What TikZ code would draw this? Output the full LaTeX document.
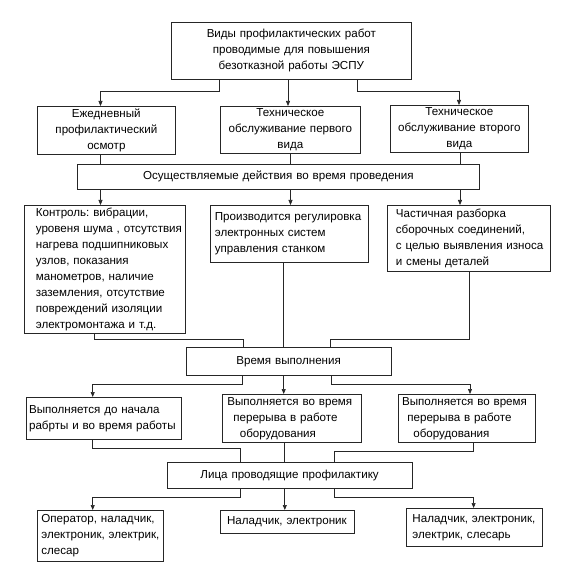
\documentclass[tikz,border=0pt]{standalone}
\usepackage{fontspec}
\setmainfont{Liberation Sans}
\usetikzlibrary{arrows.meta}
\frenchspacing
\newcommand{\lind}[1]{\leftskip=#1\relax}
\begin{document}
\begin{tikzpicture}[x=1pt,y=-1pt,
  every node/.style={font=\fontsize{11.6}{16}\selectfont\frenchspacing},
  bx/.style={draw=black!85, line width=0.7pt, rectangle, inner ysep=0pt, anchor=north west},
  cbx/.style={bx, align=center, inner xsep=0pt},
  lbx/.style={bx, align=left, inner xsep=0pt},
  ln/.style={draw=black!85, line width=0.7pt},
  arr/.style={ln, -{Triangle[length=5pt,width=4pt]}}
]
\useasboundingbox (0,0) rectangle (584,575);
% boxes
\node[cbx, minimum height=57pt, text width=240pt] (top) at (171,22)
  {Виды профилактических работ\\ проводимые для повышения\\ безотказной работы ЭСПУ};
\node[cbx, minimum height=48pt, text width=138pt] (A) at (37,106)
  {Ежедневный\\ профилактический\\ осмотр};
\node[cbx, minimum height=47pt, text width=140pt] (B) at (220,106)
  {Техническое\\ обслуживание первого\\ вида};
\node[cbx, minimum height=47pt, text width=138pt] (C) at (390,105)
  {Техническое\\ обслуживание второго\\ вида};
\node[cbx, minimum height=25pt, text width=402pt] (S) at (77,164)
  {Осуществляемые действия во время проведения};
\node[lbx, minimum height=128pt, text width=161.5pt] (D) at (23.5,205)
  {\lind{12pt}Контроль: вибрации,\\ уровеня шума , отсутствия\\ нагрева подшипниковых\\ узлов, показания\\ манометров, наличие\\ заземления, отсутствие\\ повреждений изоляции\\ электромонтажа и т.д.\par};
\node[lbx, minimum height=57pt, text width=157.5pt] (E) at (210,205)
  {\lind{4.5pt}Производится регулировка\\ электронных систем\\ управления станком\par\vspace*{3pt}};
\node[lbx, minimum height=66pt, text width=163pt] (F) at (386.5,205)
  {\lind{9pt}Частичная разборка\\ сборочных соединений,\\ с целью выявления износа\\ и смены деталей\par};
\node[cbx, minimum height=28pt, text width=205.5pt] (T) at (185.5,347)
  {Время выполнения};
\node[lbx, minimum height=42pt, text width=155.3pt] (G) at (25.7,397)
  {\lind{3pt}Выполняется до начала\\ рабрты и во время работы\par};
\node[lbx, minimum height=48pt, text width=139pt] (H) at (222,394)
  {\lind{5pt}Выполняется во время\\ \hspace*{6pt}перерыва в работе\\ \hspace*{12.5pt}оборудования\par};
\node[lbx, minimum height=48pt, text width=137pt] (I) at (398,394)
  {\lind{3.7pt}Выполняется во время\\ \hspace*{5.3pt}перерыва в работе\\ \hspace*{11.3pt}оборудования\par};
\node[cbx, minimum height=26pt, text width=245.5pt] (P) at (166.5,462)
  {Лица проводящие профилактику};
\node[lbx, minimum height=51pt, text width=126pt] (J) at (37,510)
  {\lind{4pt}Оператор, наладчик,\\ электроник, электрик,\\ слесар\par};
\node[lbx, minimum height=23pt, text width=134pt] (K) at (220,510)
  {\lind{6.7pt}Наладчик, электроник\par};
\node[lbx, minimum height=38pt, text width=136.5pt] (L) at (405.5,508)
  {\lind{6.6pt}Наладчик, электроник,\\ электрик, слесарь\par};
% connectors level 1
\draw[arr] (219,0 |- top.south) -- (219,91) -| (100.5,0 |- A.north);
\draw[arr] (288,0 |- top.south) -- (288,0 |- B.north);
\draw[arr] (357.5,0 |- top.south) -- (357.5,91) -| (459,0 |- C.north);
\draw[ln] (100.5,0 |- A.south) -- (100.5,0 |- S.north);
\draw[ln] (290.5,0 |- B.south) -- (290.5,0 |- S.north);
\draw[ln] (460,0 |- C.south) -- (460,0 |- S.north);
\draw[arr] (100.5,0 |- S.south) -- (100.5,0 |- D.north);
\draw[arr] (290.5,0 |- S.south) -- (290.5,0 |- E.north);
\draw[arr] (460,0 |- S.south) -- (460,0 |- F.north);
% to T
\draw[ln] (94,0 |- D.south) -- (94,339) -| (243.5,0 |- T.north);
\draw[ln] (283.7,0 |- E.south) -- (283.7,0 |- T.north);
\draw[ln] (469,0 |- F.south) -- (469,339) -| (330.6,0 |- T.north);
\draw[arr] (242.4,0 |- T.south) -- (242.4,384) -| (92.7,0 |- G.north);
\draw[arr] (283.7,0 |- T.south) -- (283.7,0 |- H.north);
\draw[arr] (331.7,0 |- T.south) -- (331.7,384) -| (470,0 |- I.north);
% to P
\draw[ln] (92.7,0 |- G.south) -- (92.7,448) -| (240,0 |- P.north);
\draw[ln] (284.8,0 |- H.south) -- (284.8,0 |- P.north);
\draw[ln] (473.6,0 |- I.south) -- (473.6,451) -| (334,0 |- P.north);
\draw[arr] (240,0 |- P.south) -- (240,497) -| (92.7,0 |- J.north);
\draw[arr] (284.8,0 |- P.south) -- (284.8,0 |- K.north);
\draw[arr] (334,0 |- P.south) -- (334,497) -| (473.6,0 |- L.north);
\end{tikzpicture}
\end{document}
